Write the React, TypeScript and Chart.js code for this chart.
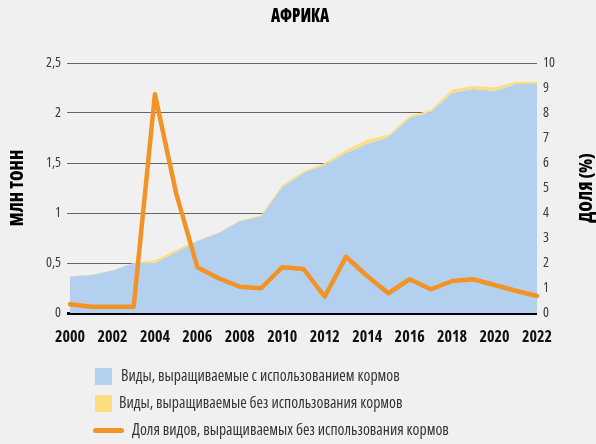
import React, { useEffect, useRef } from "react";
import { Chart, registerables } from "chart.js";

Chart.register(...registerables);

const years = ["2000","2001","2002","2003","2004","2005","2006","2007","2008","2009","2010","2011","2012","2013","2014","2015","2016","2017","2018","2019","2020","2021","2022"];
const fedSpecies = [0.365, 0.38, 0.425, 0.5, 0.5, 0.61, 0.72, 0.8, 0.92, 0.965, 1.26, 1.4, 1.48, 1.6, 1.69, 1.76, 1.95, 2.01, 2.2, 2.24, 2.22, 2.29, 2.29];
const nonFedSpecies = [0.003, 0.003, 0.003, 0.003, 0.028, 0.022, 0.006, 0.006, 0.006, 0.012, 0.02, 0.016, 0.02, 0.03, 0.04, 0.022, 0.02, 0.02, 0.036, 0.03, 0.036, 0.022, 0.022];
const nonFedShare = [0.35, 0.25, 0.25, 0.25, 8.75, 4.79, 1.83, 1.39, 1.05, 0.99, 1.83, 1.76, 0.65, 2.25, 1.48, 0.79, 1.35, 0.95, 1.28, 1.35, 1.12, 0.89, 0.68];

const leftTicks = [0, 0.5, 1, 1.5, 2, 2.5];
const rightTicks = [0, 1, 2, 3, 4, 5, 6, 7, 8, 9, 10];

const TITLE = "АФРИКА";
const LEFT_TITLE = "МЛН ТОНН";
const RIGHT_TITLE = "ДОЛЯ (%)";
const LEGEND_FED = "Виды, выращиваемые с использованием кормов";
const LEGEND_NONFED = "Виды, выращиваемые без использования кормов";
const LEGEND_SHARE = "Доля видов, выращиваемых без использования кормов";

const FAMILY = '"Open Sans", "Noto Sans", sans-serif';
const BLUE = "#b3d1ee";
const YELLOW = "#fedd7c";
const ORANGE = "#f39225";
const BG = "#f0f0f0";

const titlesPlugin = {
  id: "customTitles",
  afterDraw(chart: any) {
    const ctx = chart.ctx;
    const area = chart.chartArea;
    const midY = (area.top + area.bottom) / 2;
    ctx.save();
    ctx.fillStyle = "#000";
    ctx.textAlign = "center";
    ctx.textBaseline = "middle";
    ctx.font = `condensed 800 20px ${FAMILY}`;
    ctx.translate(300, 16);
    ctx.scale(0.8, 1);
    ctx.fillText(TITLE, 0, 0);
    ctx.restore();
    ctx.save();
    ctx.fillStyle = "#000";
    ctx.textAlign = "center";
    ctx.textBaseline = "middle";
    ctx.font = `condensed 800 17px ${FAMILY}`;
    ctx.translate(18, midY);
    ctx.rotate(-Math.PI / 2);
    ctx.fillText(LEFT_TITLE, 0, 0);
    ctx.restore();
    ctx.save();
    ctx.fillStyle = "#000";
    ctx.textAlign = "center";
    ctx.textBaseline = "middle";
    ctx.font = `condensed 800 17px ${FAMILY}`;
    ctx.translate(587, midY);
    ctx.rotate(-Math.PI / 2);
    ctx.fillText(RIGHT_TITLE, 0, 0);
    ctx.restore();
  },
};

export default function App() {
  const ref = useRef<HTMLCanvasElement | null>(null);

  useEffect(() => {
    if (!ref.current) return;
    const total = fedSpecies.map((v, i) => v + nonFedSpecies[i]);
    const chart = new Chart(ref.current, {
      type: "line",
      data: {
        labels: years,
        datasets: [
          {
            label: LEGEND_SHARE,
            data: nonFedShare,
            yAxisID: "y1",
            borderColor: ORANGE,
            borderWidth: 4.5,
            pointRadius: 0,
            fill: false,
            borderJoinStyle: "round",
            borderCapStyle: "round",
            tension: 0,
            order: 0,
          },
          {
            label: LEGEND_FED,
            data: fedSpecies,
            yAxisID: "y",
            backgroundColor: BLUE,
            borderColor: BLUE,
            borderWidth: 0,
            pointRadius: 0,
            fill: "origin",
            tension: 0,
            order: 2,
          },
          {
            label: LEGEND_NONFED,
            data: total,
            yAxisID: "y",
            backgroundColor: YELLOW,
            borderColor: YELLOW,
            borderWidth: 0,
            pointRadius: 0,
            fill: "-1",
            tension: 0,
            order: 1,
          },
        ],
      },
      options: {
        animation: false,
        responsive: false,
        maintainAspectRatio: false,
        layout: { padding: { top: 63, left: 0, right: 0, bottom: 91 } },
        plugins: {
          legend: { display: false },
          title: { display: false },
          tooltip: { enabled: false },
        },
        scales: {
          x: {
            type: "category",
            offset: false,
            grid: { display: false, drawTicks: false },
            border: { display: false },
            ticks: {
              autoSkip: false,
              maxRotation: 0,
              padding: 15,
              color: "#111",
              font: { family: FAMILY, size: 16, weight: "condensed 700" as any },
              callback: (_v: any, i: number) => (i % 2 === 0 ? years[i] : ""),
            },
            afterFit: (s: any) => { s.height = 40; },
          },
          y: {
            position: "left",
            min: 0,
            max: 2.5,
            afterBuildTicks: (s: any) => { s.ticks = leftTicks.map((v) => ({ value: v })); },
            grid: {
              color: (c: any) => (c.tick && c.tick.value === 0 ? "#000" : "#666"),
              lineWidth: (c: any) => (c.tick && c.tick.value === 0 ? 3 : 1),
              tickLength: 3,
            },
            border: { display: false },
            ticks: {
              padding: 6,
              color: "#3a3a3a",
              font: { family: FAMILY, size: 14, weight: "condensed 400" as any },
              callback: (v: any) => String(v).replace(".", ","),
            },
            afterFit: (s: any) => { s.width = 70; },
          },
          y1: {
            position: "right",
            min: 0,
            max: 10,
            afterBuildTicks: (s: any) => { s.ticks = rightTicks.map((v) => ({ value: v })); },
            grid: { drawOnChartArea: false, drawTicks: false },
            border: { display: false },
            ticks: {
              padding: 6,
              color: "#3a3a3a",
              font: { family: FAMILY, size: 14, weight: "condensed 400" as any },
            },
            afterFit: (s: any) => { s.width = 59; },
          },
        },
      },
      plugins: [titlesPlugin],
    });
    return () => chart.destroy();
  }, []);

  const rowText: React.CSSProperties = {
    position: "absolute",
    fontFamily: FAMILY,
    fontStretch: "condensed",
    fontSize: 15.7,
    color: "#333",
    whiteSpace: "nowrap",
    lineHeight: "17px",
  };

  return (
    <div style={{ position: "absolute", left: 0, top: 0, width: 596, height: 444, background: BG, overflow: "hidden" }}>
      <canvas ref={ref} width={596} height={444} style={{ position: "absolute", left: 0, top: 0, width: 596, height: 444 }} />
      <div style={{ position: "absolute", left: 95, top: 368, width: 17, height: 17, background: BLUE }} />
      <div style={{ ...rowText, left: 121, top: 367 }}>{LEGEND_FED}</div>
      <div style={{ position: "absolute", left: 95, top: 395, width: 17, height: 17, background: YELLOW }} />
      <div style={{ ...rowText, left: 119, top: 394 }}>{LEGEND_NONFED}</div>
      <div style={{ position: "absolute", left: 93, top: 428, width: 31, height: 4.5, borderRadius: 3, background: ORANGE }} />
      <div style={{ ...rowText, left: 132, top: 421 }}>{LEGEND_SHARE}</div>
    </div>
  );
}
